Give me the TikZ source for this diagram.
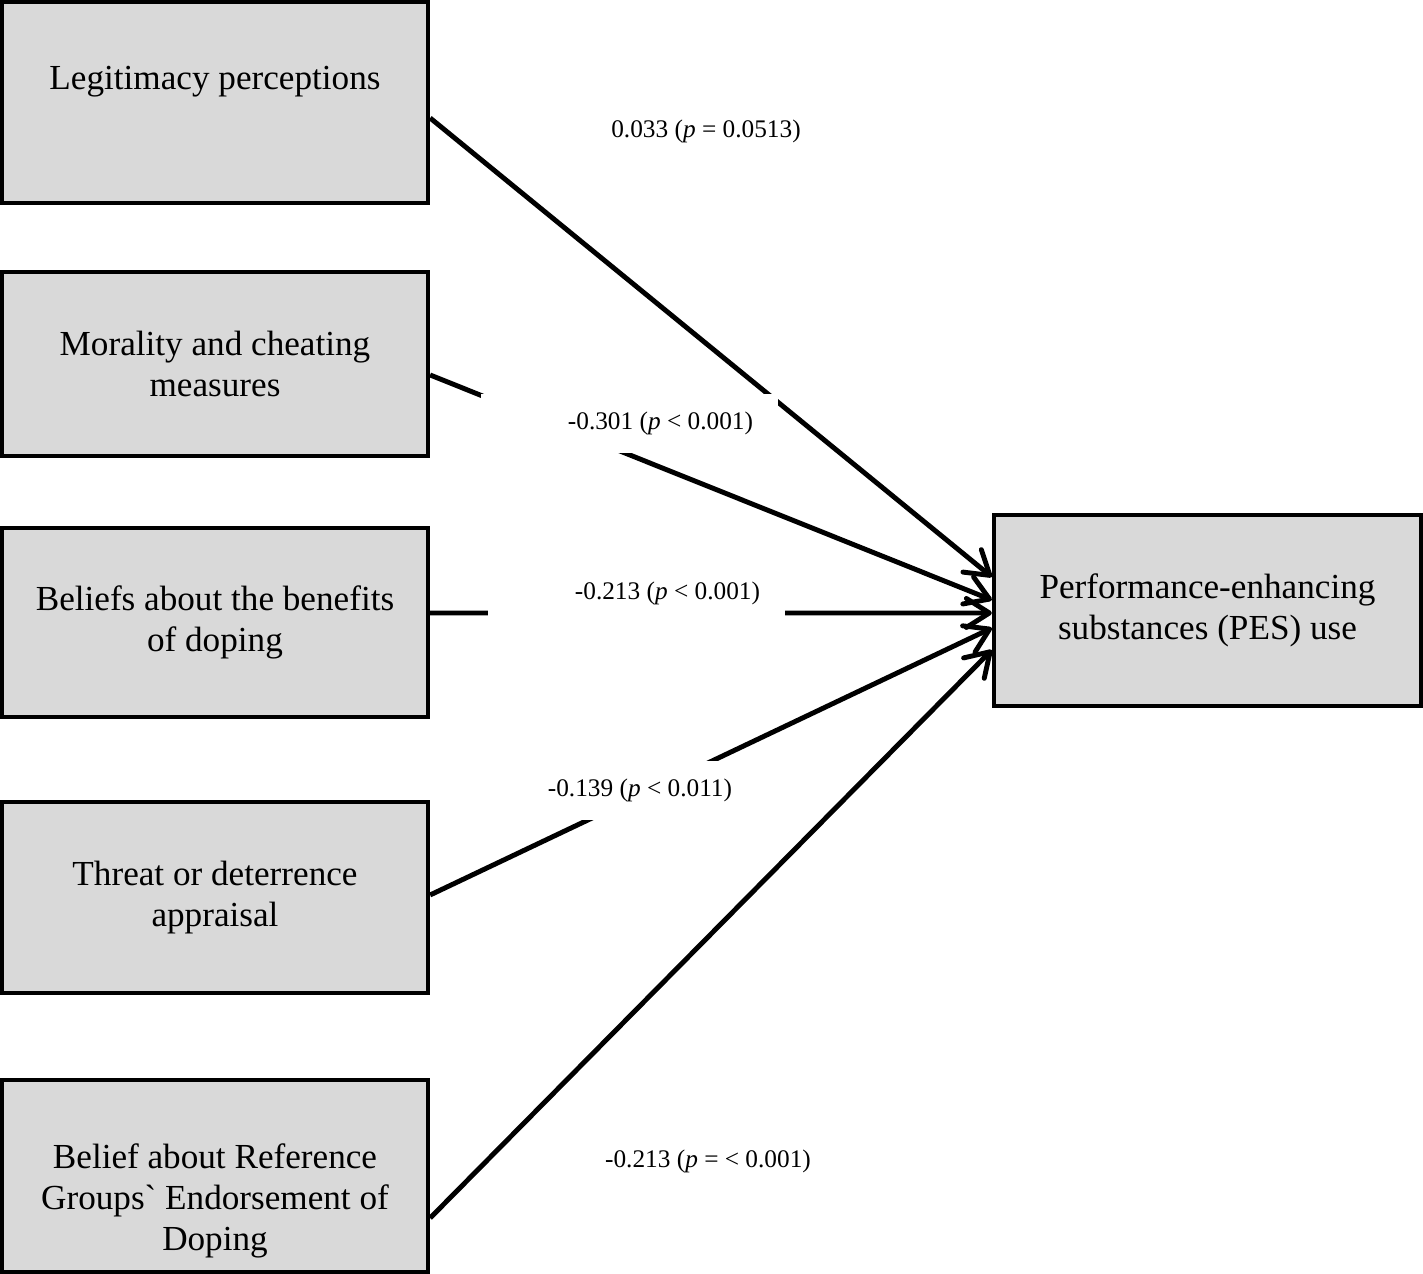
\documentclass[tikz,border=0pt]{standalone}
\usepackage{fontspec}
\setmainfont{Liberation Serif}
\definecolor{boxgray}{RGB}{217,217,217}
\usetikzlibrary{arrows.meta}

\begin{document}
\begin{tikzpicture}[x=0.01cm,y=-0.01cm,
        box/.style={draw,line width=1.15pt,fill=boxgray,minimum width=4.26cm,
                    align=center,inner sep=0pt,font=\fontsize{10}{11.8}\selectfont},
        boxtext/.style={align=center,inner sep=0pt,font=\fontsize{10}{11.6}\selectfont},
        coef/.style={inner sep=0pt,font=\fontsize{7.2}{8.6}\selectfont},
        coefmask/.style={coef,fill=white,minimum height=0.59cm,inner xsep=0.25cm,
                         text width=2.47cm,align=flush right},
        link/.style={line width=1.4pt,-{Straight Barb[length=2.3mm,width=2.9mm,round]}}]
        \useasboundingbox (0,0) rectangle (1423,1274);
        \node[box,minimum height=2.01cm] (legit) at (215,102.5) {};
        \node[boxtext] (legittxt) at (215,82) {Legitimacy perceptions};
        \node[box,minimum height=1.84cm] (moral) at (215,364) {Morality and cheating\\measures};
        \node[box,minimum height=1.89cm] (benefit) at (215,622.5) {Beliefs about the benefits\\of doping};
        \node[box,minimum height=1.91cm] (threat) at (215,897.5) {Threat or deterrence\\appraisal};
        \node[box,minimum height=1.92cm] (refgrp) at (215,1176) {};
        \node[boxtext] (reftxt) at (215,1201) {Belief about Reference\\Groups\textasciigrave{} Endorsement of\\Doping};
        \node[box,minimum width=4.27cm,minimum height=1.91cm] (pes) at (1207.5,610.5) {Performance-enhancing\\substances (PES) use};
        \draw[link] ([yshift=-0.155cm]legit.east) -- ([yshift=0.335cm]pes.west);
        \draw[link] ([yshift=-0.11cm]moral.east) -- ([yshift=0.105cm]pes.west);
        \draw[link] ([yshift=0.095cm]benefit.east) -- ([yshift=-0.025cm]pes.west);
        \draw[link] ([yshift=0.025cm]threat.east) -- ([yshift=-0.175cm]pes.west);
        \draw[link] ([yshift=-0.42cm]refgrp.east) -- ([yshift=-0.395cm]pes.west);
        \node[coef] (c1) at (706,131) {0.033 (\textit{p} = 0.0513)};
        \node[coefmask] (c2) at (629.5,423.5) {-0.301 (\textit{p} < 0.001)};
        \node[coefmask] (c3) at (636.5,593) {-0.213 (\textit{p} < 0.001)};
        \node[coefmask] (c4) at (608.5,790.5) {-0.139 (\textit{p} < 0.011)};
        \node[coef] (c5) at (708,1161) {-0.213 (\textit{p} = < 0.001)};
      \end{tikzpicture}
\end{document}
